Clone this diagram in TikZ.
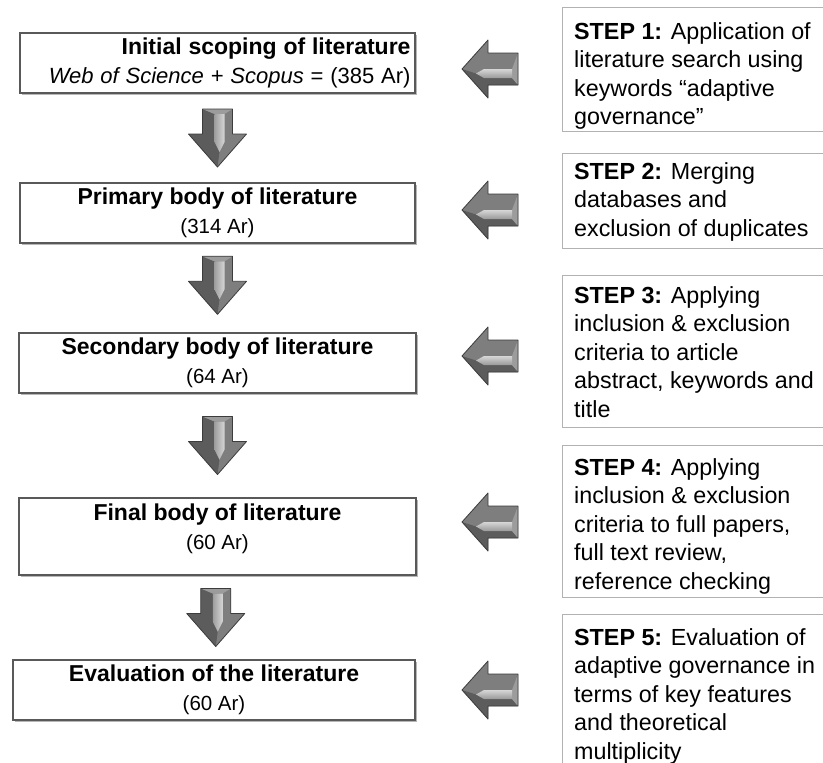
\documentclass[tikz,border=0pt]{standalone}
\usepackage{fontspec}
\setmainfont{Liberation Sans}
\usetikzlibrary{shadows}
\definecolor{aedge}{HTML}{3C3C3C}
\definecolor{amid}{HTML}{7E7E7E}
\definecolor{adark}{HTML}{5C5C5C}
\definecolor{alight}{HTML}{9C9C9C}
\newcommand{\ttl}[1]{{\fontsize{23}{29}\selectfont\bfseries #1}}
\tikzset{
  lbox/.style={draw=black!65, line width=1.2pt, fill=white, inner sep=0pt,
    align=center, font=\fontsize{20.5}{29}\selectfont,
    drop shadow={shadow xshift=1.5pt, shadow yshift=-1.5pt, fill=black!35, opacity=0.8}},
  rbox/.style={draw=black!30, line width=0.9pt, fill=white, inner sep=0pt, anchor=north west},
  rtext/.style={anchor=north west, inner sep=0pt, align=left, font=\fontsize{23.3}{28.5}\selectfont},
  downarrow/.pic={
    \fill[amid] (-15,-29)--(15,-29)--(15,-4)--(29,-4)--(0,29)--(-29,-4)--(-15,-4)--cycle;
    \fill[adark] (-15,-29)--(-3,-24)--(-3,4)--(2,14)--(0,29)--(-29,-4)--(-15,-4)--cycle;
    \fill[alight] (-15,-29)--(15,-29)--(7,-24)--(-3,-24)--cycle;
    \shade[left color=black!38, right color=black!16] (-3,-24)--(7,-24)--(7,4)--(2,14)--(-3,4)--cycle;
    \draw[aedge, line width=0.8pt, line join=round] (-15,-29)--(15,-29)--(15,-4)--(29,-4)--(0,29)--(-29,-4)--(-15,-4)--cycle;
  },
  leftarrow/.pic={
    \fill[amid] (28,-16)--(28,16)--(-2,16)--(-2,29)--(-28,0)--(-2,-29)--(-2,-16)--cycle;
    \fill[adark] (28,16)--(22,9)--(-6,9)--(-14,4.5)--(-28,0)--(-2,29)--(-2,16)--cycle;
    \fill[alight] (28,-16)--(28,16)--(22,9)--(22,0)--cycle;
    \shade[top color=black!16, bottom color=black!40] (22,0)--(22,9)--(-6,9)--(-14,4.5)--(-6,0)--cycle;
    \draw[aedge, line width=0.8pt, line join=round] (28,-16)--(28,16)--(-2,16)--(-2,29)--(-28,0)--(-2,-29)--(-2,-16)--cycle;
  }
}
\begin{document}
\begin{tikzpicture}[x=1pt, y=-1pt]
\useasboundingbox[fill=white] (0,0) rectangle (823,763);

% left boxes
\node[lbox, minimum width=395pt, minimum height=60pt, text width=386pt, align=right] (b1) at (217.5,63)
  {\ttl{Initial scoping of literature}\\{\fontsize{22}{29}\selectfont\textit{Web of Science + Scopus} = (385 Ar)}};
\node[lbox, minimum width=395pt, minimum height=60pt] (b2) at (217.5,213)
  {\ttl{Primary body of literature}\\(314 Ar)};
\node[lbox, minimum width=397pt, minimum height=60pt] (b3) at (217.5,363)
  {\ttl{Secondary body of literature}\\(64 Ar)};
\node[lbox, minimum width=397pt, minimum height=77pt] (b4) at (217.5,536.5)
  {\ttl{Final body of literature}\\(60 Ar)\rule[-20pt]{0pt}{0pt}};
\node[lbox, minimum width=402pt, minimum height=60pt] (b5) at (214,690)
  {\ttl{Evaluation of the literature}\\(60 Ar)};

% down arrows between boxes
\path (b1.south) -- (b2.north) pic[midway] {downarrow};
\path (b2.south) -- (b3.north) pic[pos=0.47] {downarrow};
\path (b3.south) -- (b4.north) pic[midway] {downarrow};
\path (b4.south) -- (b5.north) pic[midway] {downarrow};

% right boxes
\node[rbox, minimum width=270pt, minimum height=124pt] (r1) at (562,7) {};
\node[rbox, minimum width=270pt, minimum height=95pt] (r2) at (562,153) {};
\node[rbox, minimum width=270pt, minimum height=152pt] (r3) at (562,275) {};
\node[rbox, minimum width=270pt, minimum height=152pt] (r4) at (562,445) {};
\node[rbox, minimum width=270pt, minimum height=170pt] (r5) at (562,614) {};

\node[rtext] (t1) at (574,22) {\textbf{STEP 1:} Application of\\literature search using\\keywords “adaptive\\governance”};
\node[rtext] (t2) at (574,162) {\textbf{STEP 2:} Merging\\databases and\\exclusion of duplicates};
\node[rtext] (t3) at (574,286) {\textbf{STEP 3:} Applying\\inclusion \& exclusion\\criteria to article\\abstract, keywords and\\title};
\node[rtext] (t4) at (574,458) {\textbf{STEP 4:} Applying\\inclusion \& exclusion\\criteria to full papers,\\full text review,\\reference checking};
\node[rtext] (t5) at (574,628) {\textbf{STEP 5:} Evaluation of\\adaptive governance in\\terms of key features\\and theoretical\\multiplicity};

% left-pointing arrows
\pic at (490,69) {leftarrow};
\pic at (490,210) {leftarrow};
\pic at (490,356) {leftarrow};
\pic at (490,522) {leftarrow};
\pic at (490,690) {leftarrow};
\end{tikzpicture}
\end{document}
